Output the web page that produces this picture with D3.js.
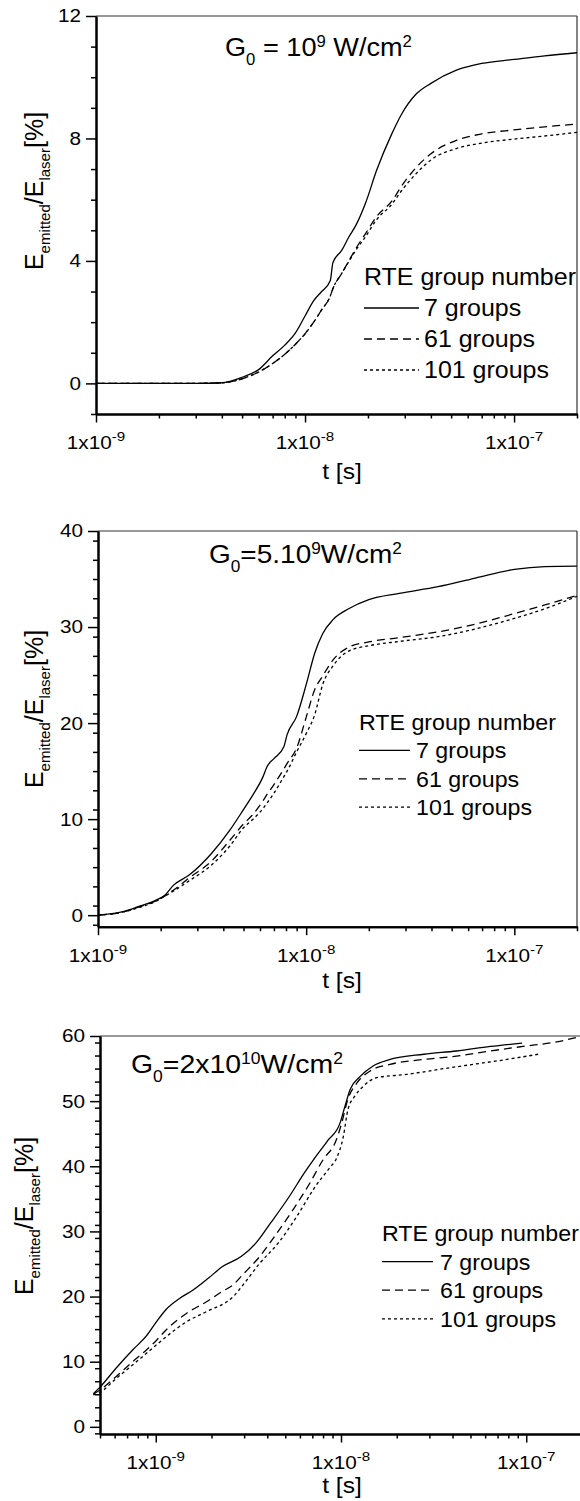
<!DOCTYPE html>
<meta charset="utf-8">
<html>
<head>
<script src="https://cdn.jsdelivr.net/npm/d3@7"></script>
<style>
  body { margin: 0; background: #fff; }
  text { font-family: "Liberation Sans", Arial, sans-serif; fill: #000; white-space: pre; }
  .curve { fill: none; stroke: #000; stroke-width: 1.3px; }
</style>
</head>
<body>
<script>
// ---- panel 1 : G0 = 1e9 W/cm2 ----
var p1Time = [1e-9, 2e-9, 3e-9, 4e-9, 5e-9, 6e-9, 7e-9, 8e-9, 9e-9, 1e-8, 1.1e-8, 1.2e-8, 1.32e-8, 1.36e-8,
  1.5e-8, 1.62e-8, 1.75e-8, 1.95e-8, 2.2e-8, 2.6e-8, 2.9e-8, 3.4e-8, 4e-8, 5.3e-8, 7e-8, 1e-7, 1.4e-7, 2e-7];
var p1Groups7 = [0, 0, 0, 0.02, 0.2, 0.45, 0.9, 1.25, 1.65, 2.2, 2.7, 3.0, 3.35, 3.95,
  4.35, 4.78, 5.16, 5.9, 6.96, 8.15, 8.8, 9.45, 9.8, 10.23, 10.45, 10.58, 10.7, 10.8];
var p1Groups61 = [0, 0, 0, 0.02, 0.15, 0.37, 0.65, 0.95, 1.28, 1.62, 2.0, 2.4, 2.85, 3.1,
  3.6, 4.0, 4.4, 4.9, 5.45, 5.95, 6.45, 7.05, 7.5, 7.94, 8.15, 8.28, 8.38, 8.47];
var p1Groups101 = [0, 0, 0, 0.02, 0.15, 0.37, 0.65, 0.95, 1.28, 1.62, 2.0, 2.4, 2.85, 3.1,
  3.6, 3.98, 4.35, 4.8, 5.35, 5.85, 6.3, 6.85, 7.3, 7.67, 7.85, 7.98, 8.08, 8.2];

// ---- panel 2 : G0 = 5e9 W/cm2 ----
var p2Time = [1e-9, 1.3e-9, 1.55e-9, 1.9e-9, 2.1e-9, 2.3e-9, 2.75e-9, 3.5e-9, 4.3e-9, 5e-9, 5.5e-9, 6.2e-9,
  6.5e-9, 7e-9, 7.8e-9, 8.1e-9, 9e-9, 1e-8, 1.1e-8, 1.2e-8, 1.35e-8, 1.6e-8, 2e-8, 2.8e-8, 4.3e-8, 6.5e-8,
  1e-7, 1.4e-7, 2e-7];
var p2Groups7 = [0, 0.34, 0.86, 1.56, 2.1, 3.1, 4.2, 6.4, 8.85, 11.0, 12.4, 14.4,
  15.5, 16.3, 17.5, 18.8, 20.7, 24.0, 27.3, 29.3, 30.8, 31.9, 32.85, 33.5, 34.2, 35.1,
  36.0, 36.3, 36.35];
var p2Groups61 = [0, 0.3, 0.8, 1.5, 2.0, 2.6, 3.9, 5.6, 7.8, 9.5, 10.4, 11.9,
  12.6, 13.6, 15.2, 15.8, 17.4, 20.6, 23.5, 24.9, 26.6, 27.9, 28.45, 28.9, 29.5, 30.3,
  31.4, 32.3, 33.3];
var p2Groups101 = [0, 0.3, 0.75, 1.45, 2.0, 2.5, 3.6, 5.2, 7.2, 9.1, 9.9, 11.1,
  11.7, 12.7, 14.4, 15.0, 17.0, 18.9, 20.9, 24.0, 26.0, 27.5, 28.05, 28.5, 29.0, 29.8,
  30.9, 31.9, 33.2];

// ---- panel 3 : G0 = 2e10 W/cm2 (each run has its own time grid) ----
var p3Time7 = [4.6e-10, 5e-10, 6.1e-10, 7.5e-10, 8.9e-10, 1.01e-9, 1.14e-9, 1.35e-9, 1.59e-9, 1.92e-9,
  2.29e-9, 2.89e-9, 3.47e-9, 4.17e-9, 5.27e-9, 6.34e-9, 7.1e-9, 8.4e-9, 9.9e-9, 1.05e-8, 1.12e-8,
  1.27e-8, 1.49e-8, 1.84e-8, 2.8e-8, 4.2e-8, 6.4e-8, 9.5e-8];
var p3Groups7 = [5.1, 6.1, 9.0, 11.8, 13.95, 16.15, 18.05, 19.75, 21.0, 22.8,
  24.6, 26.15, 28.2, 31.3, 35.4, 39.0, 41.0, 43.8, 46.7, 49.2, 51.8,
  53.8, 55.4, 56.4, 57.2, 57.7, 58.4, 58.9];
var p3Time61 = [4.6e-10, 5e-10, 6.1e-10, 7.5e-10, 8.9e-10, 1.01e-9, 1.14e-9, 1.47e-9, 1.88e-9, 2.29e-9,
  2.62e-9, 2.89e-9, 3.64e-9, 4.37e-9, 5.5e-9, 6.62e-9, 8.0e-9, 9.45e-9, 1.01e-8, 1.09e-8, 1.22e-8,
  1.43e-8, 1.84e-8, 2.8e-8, 4.2e-8, 6.4e-8, 9.6e-8, 1.46e-7, 2e-7];
var p3Groups61 = [5.0, 5.65, 7.7, 10.0, 11.8, 13.3, 14.9, 17.45, 19.2, 20.8,
  21.8, 23.1, 26.15, 29.2, 33.3, 36.9, 41.0, 44.1, 46.7, 50.3, 52.8,
  54.6, 55.65, 56.4, 56.9, 57.7, 58.4, 59.1, 60.0];
var p3Time101 = [4.6e-10, 5e-10, 6.1e-10, 7.5e-10, 1.01e-9, 1.14e-9, 1.47e-9, 1.88e-9, 2.62e-9, 3.0e-9,
  3.64e-9, 4.58e-9, 5.77e-9, 7.27e-9, 8.7e-9, 9.45e-9, 1.03e-8, 1.09e-8, 1.19e-8, 1.32e-8,
  1.56e-8, 2.26e-8, 3.42e-8, 5.18e-8, 7.85e-8, 1.16e-7];
var p3Groups101 = [4.9, 5.3, 7.4, 9.5, 12.6, 13.85, 16.15, 17.7, 20.0, 22.0,
  25.1, 28.2, 32.3, 36.9, 39.8, 41.2, 44.6, 48.7, 50.8, 52.3,
  53.6, 54.1, 54.9, 55.65, 56.4, 57.2];

// legend / ticks
var legendTitle = "RTE group number";
var legendNames = ["7 groups", "61 groups", "101 groups"];
var dashes = [null, "8,5", "3,3"];
var p1XMajor = [1e-9, 1e-8, 1e-7];
var p2XMajor = [1e-9, 1e-8, 1e-7];
var p3XMajor = [1e-9, 1e-8, 1e-7];
var p1YMajor = [0, 4, 8, 12];
var p2YMajor = [0, 10, 20, 30, 40];
var p3YMajor = [0, 10, 20, 30, 40, 50, 60];

var stretchX = 1.12; // the original lettering is a bit wider than Arial

var svg = d3.select("body").append("svg")
    .attr("width", 580)
    .attr("height", 1501);
svg.append("rect").attr("width", 580).attr("height", 1501).attr("fill", "#fff");

var panels = [
  {
    series: [[p1Time, p1Groups7], [p1Time, p1Groups61], [p1Time, p1Groups101]],
    xDomain: [1e-9, 2e-7], yDomain: [-1, 12],
    left: 96, right: 577, top: 16, bottom: 414, rightFrame: true,
    xMajor: p1XMajor, yMajor: p1YMajor, yMinorStep: 1,
    title: [["G", ""], ["0", "sub"], [" = 10", ""], ["9", "sup"], [" W/cm", ""], ["2", "sup"]],
    titleX: 225, titleY: 56, titleW: 187,
    yLabelX: 43, yLabelY: 191, xLabelY: 479,
    legX: 364, legY: 285, legW: 212, legStep: 31, legFont: 23.5, legLine: 55, legText: 60
  },
  {
    series: [[p2Time, p2Groups7], [p2Time, p2Groups61], [p2Time, p2Groups101]],
    xDomain: [1e-9, 2e-7], yDomain: [-1.2, 40],
    left: 98, right: 577, top: 531, bottom: 926.7, rightFrame: true,
    xMajor: p2XMajor, yMajor: p2YMajor, yMinorStep: 2,
    title: [["G", ""], ["0", "sub"], ["=5.10", ""], ["9", "sup"], ["W/cm", ""], ["2", "sup"]],
    titleX: 209, titleY: 563, titleW: 193,
    yLabelX: 43, yLabelY: 709, xLabelY: 988,
    legX: 359, legY: 730, legW: 197, legStep: 28.4, legFont: 21.5, legLine: 51, legText: 57
  },
  {
    series: [[p3Time7, p3Groups7], [p3Time61, p3Groups61], [p3Time101, p3Groups101]],
    xDomain: [5e-10, 2e-7], yDomain: [-1.1, 60],
    left: 100, right: 582, top: 1036, bottom: 1434, rightFrame: false,
    xMajor: p3XMajor, yMajor: p3YMajor, yMinorStep: 2,
    title: [["G", ""], ["0", "sub"], ["=2x10", ""], ["10", "sup"], ["W/cm", ""], ["2", "sup"]],
    titleX: 131, titleY: 1073, titleW: 212,
    yLabelX: 33, yLabelY: 1216, xLabelY: 1493,
    legX: 382, legY: 1241, legW: 197, legStep: 28.6, legFont: 21.5, legLine: 51, legText: 58
  }
];

panels.forEach(drawPanel);

// widen a text horizontally about its anchor x
function stretch(sel, x0, s) {
  sel.attr("transform", "translate(" + x0 + ",0) scale(" + s + ",1) translate(" + (-x0) + ",0)");
}

function drawPanel(p) {
  var x = d3.scaleLog().domain(p.xDomain).range([p.left, p.right]);
  var y = d3.scaleLinear().domain(p.yDomain).range([p.bottom, p.top]);
  var g = svg.append("g");

  // thin top / right frame
  g.append("line").attr("x1", p.left).attr("x2", Math.min(p.right, 580))
      .attr("y1", p.top).attr("y2", p.top)
      .attr("stroke", "#333").attr("stroke-width", 1.2);
  if (p.rightFrame) {
    g.append("line").attr("x1", p.right).attr("x2", p.right)
        .attr("y1", p.top).attr("y2", p.bottom)
        .attr("stroke", "#333").attr("stroke-width", 1.2);
  }

  // y axis: minor then major ticks
  var yMinor = d3.range(Math.ceil(p.yDomain[0]), p.yDomain[1] + 0.001, p.yMinorStep)
      .filter(function(v) { return p.yMajor.indexOf(v) < 0; });
  g.append("g").attr("transform", "translate(" + p.left + ",0)")
      .call(d3.axisLeft(y).tickValues(yMinor).tickSize(5).tickSizeOuter(0).tickFormat(""))
      .call(styleAxis);
  var ya = g.append("g").attr("transform", "translate(" + p.left + ",0)")
      .call(d3.axisLeft(y).tickValues(p.yMajor).tickSize(10).tickSizeOuter(0).tickPadding(5).tickFormat(d3.format("d")))
      .call(styleAxis);
  ya.selectAll("text")
      .style("font-size", "18.5px")
      .style("font-family", "'Liberation Sans', Arial, sans-serif")
      .attr("x", -15 / stretchX)
      .attr("transform", "scale(" + stretchX + ",1)");

  // x axis
  var xMinor = x.ticks().filter(function(t) { return p.xMajor.indexOf(t) < 0 && t <= p.xDomain[1]; });
  g.append("g").attr("transform", "translate(0," + p.bottom + ")")
      .call(d3.axisBottom(x).tickValues(xMinor).tickSize(4.5).tickSizeOuter(0).tickFormat(""))
      .call(styleAxis);
  g.append("g").attr("transform", "translate(0," + p.bottom + ")")
      .call(d3.axisBottom(x).tickValues(p.xMajor).tickSize(8.5).tickSizeOuter(0).tickFormat(""))
      .call(styleAxis);

  p.xMajor.forEach(function(t) {
    var lab = g.append("text")
        .attr("x", x(t)).attr("y", p.bottom + 35)
        .attr("text-anchor", "middle")
        .style("font-size", "18.5px");
    lab.append("tspan").text("1x10");
    lab.append("tspan").attr("dy", -8).style("font-size", "13.5px").text(String(Math.round(Math.log10(t))));
    stretch(lab, x(t), stretchX);
  });

  // axis titles
  var xt = g.append("text").attr("x", 342).attr("y", p.xLabelY)
      .attr("text-anchor", "middle").style("font-size", "22px").text("t [s]");
  stretch(xt, 342, stretchX);

  var yl = g.append("text")
      .attr("transform", "translate(" + p.yLabelX + "," + p.yLabelY + ") rotate(-90)")
      .attr("text-anchor", "middle").style("font-size", "25px");
  yl.append("tspan").text("E");
  yl.append("tspan").attr("dy", 7).style("font-size", "15px").text("emitted");
  yl.append("tspan").attr("dy", -7).text("/E");
  yl.append("tspan").attr("dy", 7).style("font-size", "15px").text("laser");
  yl.append("tspan").attr("dy", -7).text("[%]");

  // title with sub / superscripts, fitted to the measured width
  var tt = g.append("text").attr("x", p.titleX).attr("y", p.titleY).style("font-size", "26px");
  var shift = 0;
  p.title.forEach(function(part) {
    var target = part[1] == "sub" ? 9 : part[1] == "sup" ? -9 : 0;
    var ts = tt.append("tspan").attr("dy", target - shift).text(part[0]);
    if (part[1]) ts.style("font-size", "16px");
    shift = target;
  });
  stretch(tt, p.titleX, p.titleW / tt.node().getComputedTextLength());

  // curves
  var line = d3.line()
      .x(function(d) { return x(d[0]); })
      .y(function(d) { return y(d[1]); })
      .curve(d3.curveMonotoneX);
  p.series.forEach(function(s, i) {
    var pts = s[0].map(function(t, k) { return [t, s[1][k]]; });
    g.append("path").datum(pts)
        .attr("class", "curve")
        .attr("stroke-dasharray", dashes[i])
        .attr("d", line);
  });

  // legend
  var leg = g.append("g").style("font-size", p.legFont + "px");
  var lt = leg.append("text").attr("x", p.legX).attr("y", p.legY).text(legendTitle);
  var ls = p.legW / lt.node().getComputedTextLength();
  stretch(lt, p.legX, ls);
  legendNames.forEach(function(name, i) {
    var by = p.legY + p.legStep * (i + 1);
    leg.append("line")
        .attr("x1", p.legX).attr("x2", p.legX + p.legLine)
        .attr("y1", by - 8).attr("y2", by - 8)
        .attr("stroke", "#000").attr("stroke-width", 1.3)
        .attr("stroke-dasharray", dashes[i]);
    var lx = p.legX + p.legText;
    var txt = leg.append("text").attr("x", lx).attr("y", by).text(name);
    stretch(txt, lx, ls);
  });
}

function styleAxis(sel) {
  sel.select(".domain").attr("stroke", "#000").attr("stroke-width", 2);
  sel.selectAll(".tick line").attr("stroke", "#000").attr("stroke-width", 1.5);
  sel.selectAll("text").attr("fill", "#000");
}
</script>
</body>
</html>
